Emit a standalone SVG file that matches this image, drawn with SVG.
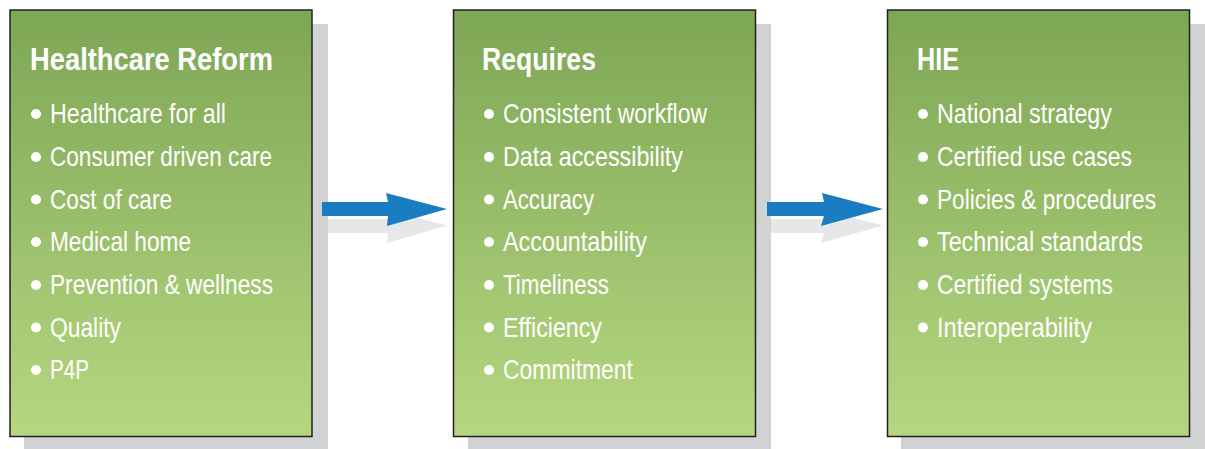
<svg xmlns="http://www.w3.org/2000/svg" width="1205" height="449" viewBox="0 0 1205 449">
<defs>
<linearGradient id="g" x1="0" y1="0" x2="0" y2="1">
<stop offset="0" stop-color="#7da655"/>
<stop offset="1" stop-color="#b6d780"/>
</linearGradient>
</defs>
<style>
.sh{fill:#d1d2d4}
.box{fill:url(#g);stroke:#231f20;stroke-width:1.5}
.t{font-family:"Liberation Sans",Arial,sans-serif;font-weight:bold;font-size:31px;fill:#fff}
.i{font-family:"Liberation Sans",Arial,sans-serif;font-size:28px;fill:#fff}
.b{fill:#fff}
.ar{fill:#1a7dc1}
.ag{fill:#e6e7e8}
</style>
<rect width="1205" height="449" fill="#fff"/>
<g id="node-reform">
<rect class="sh" x="24" y="24" width="304" height="425"/>
<rect class="box" x="10" y="10" width="302" height="426.5"/>
<text class="t" x="30" y="70" textLength="243" lengthAdjust="spacingAndGlyphs">Healthcare Reform</text>
<circle class="b" cx="36" cy="114" r="5"/><text class="i" x="50" y="123.3" textLength="176" lengthAdjust="spacingAndGlyphs">Healthcare for all</text>
<circle class="b" cx="36" cy="157" r="5"/><text class="i" x="50" y="166" textLength="222" lengthAdjust="spacingAndGlyphs">Consumer driven care</text>
<circle class="b" cx="36" cy="199.5" r="5"/><text class="i" x="50" y="208.6" textLength="122" lengthAdjust="spacingAndGlyphs">Cost of care</text>
<circle class="b" cx="36" cy="242" r="5"/><text class="i" x="50" y="251.3" textLength="141" lengthAdjust="spacingAndGlyphs">Medical home</text>
<circle class="b" cx="36" cy="285" r="5"/><text class="i" x="50" y="294" textLength="223" lengthAdjust="spacingAndGlyphs">Prevention &amp; wellness</text>
<circle class="b" cx="36" cy="327.5" r="5"/><text class="i" x="50" y="336.6" textLength="71" lengthAdjust="spacingAndGlyphs">Quality</text>
<circle class="b" cx="36" cy="370" r="5"/><text class="i" x="50" y="379.3" textLength="39" lengthAdjust="spacingAndGlyphs">P4P</text>
</g>
<g id="node-requires">
<rect class="sh" x="468" y="24" width="303" height="425"/>
<rect class="box" x="453.5" y="10" width="302" height="426.5"/>
<text class="t" x="482" y="70" textLength="114" lengthAdjust="spacingAndGlyphs">Requires</text>
<circle class="b" cx="489" cy="114" r="5"/><text class="i" x="503" y="123.3" textLength="204" lengthAdjust="spacingAndGlyphs">Consistent workflow</text>
<circle class="b" cx="489" cy="157" r="5"/><text class="i" x="503" y="166" textLength="180" lengthAdjust="spacingAndGlyphs">Data accessibility</text>
<circle class="b" cx="489" cy="199.5" r="5"/><text class="i" x="503" y="208.6" textLength="91" lengthAdjust="spacingAndGlyphs">Accuracy</text>
<circle class="b" cx="489" cy="242" r="5"/><text class="i" x="503" y="251.3" textLength="144" lengthAdjust="spacingAndGlyphs">Accountability</text>
<circle class="b" cx="489" cy="285" r="5"/><text class="i" x="503" y="294" textLength="106" lengthAdjust="spacingAndGlyphs">Timeliness</text>
<circle class="b" cx="489" cy="327.5" r="5"/><text class="i" x="503" y="336.6" textLength="99" lengthAdjust="spacingAndGlyphs">Efficiency</text>
<circle class="b" cx="489" cy="370" r="5"/><text class="i" x="503" y="379.3" textLength="130" lengthAdjust="spacingAndGlyphs">Commitment</text>
</g>
<g id="node-hie">
<rect class="sh" x="901" y="24" width="304" height="425"/>
<rect class="box" x="887.5" y="10" width="302" height="426.5"/>
<text class="t" x="917" y="70" textLength="42" lengthAdjust="spacingAndGlyphs">HIE</text>
<circle class="b" cx="923" cy="114" r="5"/><text class="i" x="937" y="123.3" textLength="175" lengthAdjust="spacingAndGlyphs">National strategy</text>
<circle class="b" cx="923" cy="157" r="5"/><text class="i" x="937" y="166" textLength="195" lengthAdjust="spacingAndGlyphs">Certified use cases</text>
<circle class="b" cx="923" cy="199.5" r="5"/><text class="i" x="937" y="208.6" textLength="219" lengthAdjust="spacingAndGlyphs" style="font-size:27px">Policies &amp; procedures</text>
<circle class="b" cx="923" cy="242" r="5"/><text class="i" x="937" y="251.3" textLength="206" lengthAdjust="spacingAndGlyphs">Technical standards</text>
<circle class="b" cx="923" cy="285" r="5"/><text class="i" x="937" y="294" textLength="176" lengthAdjust="spacingAndGlyphs">Certified systems</text>
<circle class="b" cx="923" cy="327.5" r="5"/><text class="i" x="937" y="336.6" textLength="155" lengthAdjust="spacingAndGlyphs">Interoperability</text>
</g>
<g id="connectors">
<path class="ag" d="M328,219 H388 L386,210 L447,225.5 L387,243 L388,233 H328 Z"/>
<path class="ar" d="M322,202 H388 L386,193 L447,209 L387,226 L388,216 H322 Z"/>
<path class="ag" d="M771,219 H824 L822,210 L883,225.5 L821,243 L824,233 H771 Z"/>
<path class="ar" d="M767,202 H824 L822,193 L883,209 L821,226 L824,216 H767 Z"/>
</g>
</svg>
